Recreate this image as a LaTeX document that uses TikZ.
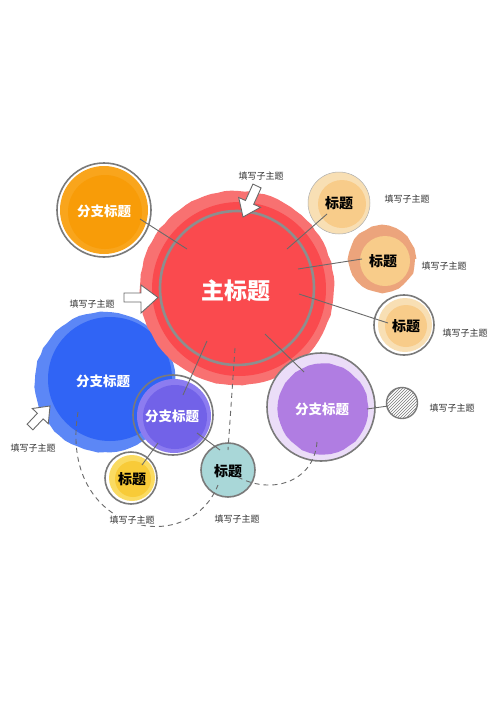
\documentclass[tikz,border=0pt]{standalone}
\usepackage{fontspec}
\newfontfamily\cjk{Noto Sans CJK SC}
\usetikzlibrary{decorations.pathmorphing,patterns}

\definecolor{redlight}{HTML}{F87171}
\definecolor{redmain}{HTML}{FA4A4E}
\definecolor{orangelight}{HTML}{F9A51C}
\definecolor{orangemain}{HTML}{F89C08}
\definecolor{peachlight}{HTML}{F8DFB4}
\definecolor{peachmain}{HTML}{F8CC8A}
\definecolor{salmon}{HTML}{ECA47C}
\definecolor{bluelight}{HTML}{5C87F6}
\definecolor{bluemain}{HTML}{3064F5}
\definecolor{violetlight}{HTML}{8C7CF0}
\definecolor{violetmain}{HTML}{7262E8}
\definecolor{yellowlight}{HTML}{FADB62}
\definecolor{yellowmain}{HTML}{F8CB38}
\definecolor{teal}{HTML}{A9D7D8}
\definecolor{lavender}{HTML}{EBDDF8}
\definecolor{purplemain}{HTML}{B07DE2}
\definecolor{ringgray}{HTML}{7A7A7A}
\definecolor{linkgray}{HTML}{6A6A6A}
\definecolor{notegray}{HTML}{333333}

\tikzset{
  rough/.style={decorate,decoration={random steps,segment length=7pt,amplitude=0.6pt}},
  ring/.style={draw=ringgray,line width=1.6pt},
  link/.style={draw=linkgray,line width=0.9pt},
  trail/.style={draw=linkgray,line width=0.9pt,dash pattern=on 5pt off 4pt},
  hollow/.style={draw=linkgray,fill=white,line width=0.9pt,line join=miter},
  maintitle/.style={text=white,font=\cjk\bfseries\fontsize{23}{26}\selectfont},
  branch/.style={text=white,font=\cjk\bfseries\fontsize{13.5}{15}\selectfont},
  leaf/.style={text=black,font=\cjk\bfseries\fontsize{14}{16}\selectfont},
  note/.style={text=notegray,font=\cjk\fontsize{9}{10}\selectfont,inner sep=1pt}
}

\begin{document}
\begin{tikzpicture}[x=1pt,y=-1pt]
				\pgfmathsetseed{7}
				\fill[white] (0,0) rectangle (500,707);
				\useasboundingbox (0,0) rectangle (500,707);

				% Blue branch
				\fill[bluelight,rough] (105,382) circle (70);
				\fill[bluemain] (110,379) circle (62);
				\node[branch] (blue) at (103,381) {分支标题};

				% Main topic
				\fill[redlight,rough] (237,288) circle (97);
				\fill[redmain] (239,289) circle (87);
				\draw[draw=ringgray!85,line width=2.6pt] (237,288) circle (77);
				\node[maintitle] (main) at (236,291) {主标题};

				% Orange branch
				\draw[ring] (104,210) circle (47);
				\fill[orangelight] (104,210) circle (44);
				\fill[orangemain] (105,212) circle (37);
				\node[branch] (orange) at (104,211) {分支标题};

				% Peach topics
				\draw[draw=ringgray!60,line width=0.5pt,fill=peachlight] (339,203) circle (31);
				\fill[peachmain] (342,204) circle (24);
				\node[leaf] (peachA) at (339,203) {标题};
				\fill[salmon,rough] (382,259) circle (33);
				\fill[peachmain] (385,261) circle (25);
				\node[leaf] (peachB) at (383,261) {标题};
				\draw[ring] (404,325) circle (30);
				\fill[peachlight] (405,325) circle (27);
				\fill[peachmain] (406,326) circle (21);
				\node[leaf] (peachC) at (406,326) {标题};

				% Violet branch
				\draw[ring] (173,415) circle (40);
				\fill[violetlight] (174,416) circle (37);
				\fill[violetmain] (175,417) circle (32);
				\node[branch] (violet) at (172,416) {分支标题};
				\draw[ring] (131,478) circle (26);
				\fill[yellowlight] (132,478) circle (23);
				\fill[yellowmain] (133,479) circle (18);
				\node[leaf] (yellow) at (132,479) {标题};
				\draw[ring,fill=teal] (228,470) circle (27);
				\node[leaf] (tealtopic) at (228,471) {标题};

				% Purple branch
				\draw[ring,fill=lavender] (321,407) circle (54);
				\fill[purplemain,rough] (323,409) circle (45);
				\node[branch] (purple) at (322,409) {分支标题};
				\node[circle,minimum size=31,draw=ringgray,line width=1.4pt,
				      pattern=north east lines,pattern color=ringgray] (hatch) at (402,403) {};

				% Links
				\draw[link] ([shift={(36,8)}]orange.center) -- ([shift={(-49,-42)}]main.center);
				\draw[link] ([shift={(-12,11)}]peachA.center) -- ([shift={(51,-42)}]main.center);
				\draw[link] ([shift={(-21,-2)}]peachB.center) -- ([shift={(62,-22)}]main.center);
				\draw[link] ([shift={(-18,-3)}]peachC.center) -- ([shift={(63,3)}]main.center);
				\draw[link] ([shift={(29,43)}]main.center) -- ([shift={(-18,-37)}]purple.center);
				\draw[link] ([shift={(-29,50)}]main.center) -- ([shift={(11,-21)}]violet.center);
				\draw[link] ([shift={(-14,27)}]violet.center) -- ([shift={(10,-14)}]yellow.center);
				\draw[link] ([shift={(25,17)}]violet.center) -- ([shift={(-8,-21)}]tealtopic.center);
				\draw[link] ([shift={(45,0)}]purple.center) -- ([shift={(-14,3)}]hatch.center);

				% Dashed trails
				\draw[trail] ([shift={(-1,57)}]main.center) -- ([shift={(0,-21)}]tealtopic.center);
				\draw[trail] ([shift={(-5,33)}]purple.center) .. controls +(-3,40) and +(35,20) .. ([shift={(8,5)}]tealtopic.center);
				\draw[trail] ([shift={(-25,31)}]blue.center) .. controls +(-20,120) and +(-30,75) .. ([shift={(-10,14)}]tealtopic.center);

				% Hollow arrows
				\draw[hollow] (261.1,187.9) -- (253.7,204.3) -- (260.5,207.3) -- (243,217)
				      -- (238.7,197.5) -- (245.5,200.5) -- (252.9,184.1) -- cycle;
				\draw[hollow] (124,293) -- (141,293) -- (141,285) -- (158,297.5)
				      -- (141,313) -- (141,302) -- (124,302) -- cycle;
				\draw[hollow] (32.9,429.8) -- (43.2,418.9) -- (48.3,423.7) -- (50,406)
				      -- (32.3,408.5) -- (37.4,413.3) -- (27.1,424.2) -- cycle;

				% Notes
				\node[note] (noteTop) at (261,176) {填写子主题};
				\node[note] (noteA) at (407,199) {填写子主题};
				\node[note] (noteB) at (444,266) {填写子主题};
				\node[note] (noteC) at (465,333) {填写子主题};
				\node[note] (noteLeft) at (92,304) {填写子主题};
				\node[note] (noteBlue) at (33,448) {填写子主题};
				\node[note] (noteHatch) at (452,408) {填写子主题};
				\node[note,fill=white] (noteYellow) at (132,520) {填写子主题};
				\node[note] (noteTeal) at (237,519) {填写子主题};
\end{tikzpicture}
\end{document}
